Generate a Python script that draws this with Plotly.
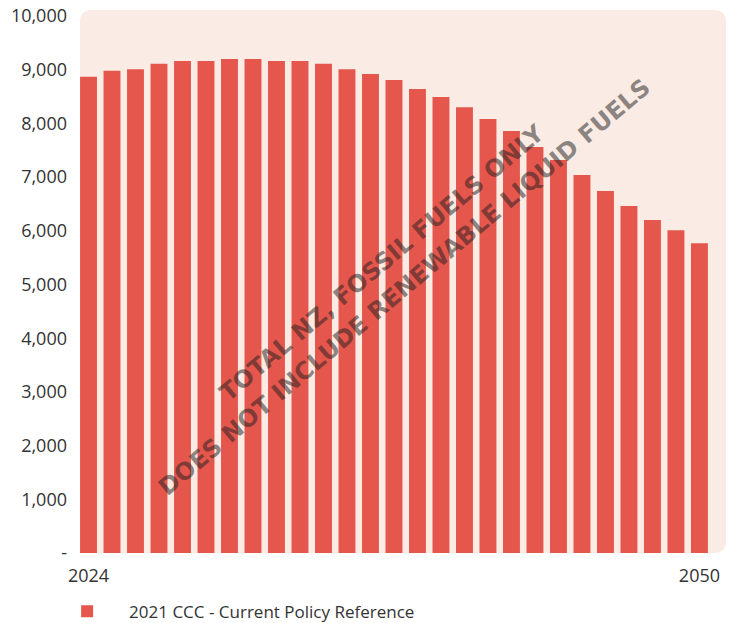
import plotly.graph_objects as go

years = list(range(2024, 2051))
values = [8870, 8980, 9010, 9110, 9160, 9160, 9200, 9200, 9160, 9160, 9110, 9010,
          8920, 8810, 8640, 8490, 8300, 8080, 7860, 7560, 7320, 7040, 6740, 6460,
          6200, 6010, 5770]
series_name = "2021 CCC - Current Policy Reference"
y_ticks = [0, 1000, 2000, 3000, 4000, 5000, 6000, 7000, 8000, 9000, 10000]
y_ticktext = ["-", "1,000", "2,000", "3,000", "4,000", "5,000", "6,000", "7,000",
              "8,000", "9,000", "10,000"]
x_ticks = [2024, 2050]
watermark = ["TOTAL NZ, FOSSIL FUELS ONLY", "DOES NOT INCLUDE RENEWABLE LIQUID FUELS"]

BAR = "#E5574C"
BG = "#FAEBE4"
TXT = "#333333"

fig = go.Figure()
fig.add_trace(go.Bar(x=years, y=values, name=series_name, marker_color=BAR,
                     marker_line_width=0, showlegend=True))

# rounded plot background
W, H = 646.0, 543.0
r = 12.0
rx, ry = r / W, r / H
path = (f"M {rx},0 L {1-rx},0 Q 1,0 1,{ry} L 1,{1-ry} Q 1,1 {1-rx},1 "
        f"L {rx},1 Q 0,1 0,{1-ry} L 0,{ry} Q 0,0 {rx},0 Z")
fig.add_shape(type="path", path=path, xref="paper", yref="paper",
              fillcolor=BG, line_width=0, layer="below")

wm_font = dict(family="DejaVu Sans", size=24, color="rgba(30,30,30,0.5)", weight="bold")
fig.add_annotation(text=watermark[0], x=0.4675, y=0.534, xref="paper", yref="paper",
                   showarrow=False, textangle=-40, font=wm_font)
fig.add_annotation(text=watermark[1], x=0.503, y=0.490, xref="paper", yref="paper",
                   showarrow=False, textangle=-40, font=wm_font)

fig.update_layout(
    width=740, height=623,
    margin=dict(l=80, r=14, t=10, b=70, autoexpand=False),
    paper_bgcolor="white", plot_bgcolor="rgba(0,0,0,0)",
    bargap=0.28,
    font=dict(family="Open Sans", color=TXT, size=18),
    xaxis=dict(range=[2023.638, 2051.13], tickvals=x_ticks, showgrid=False,
               zeroline=False, showline=False, ticks="", ticklabelstandoff=10,
               automargin=False, tickfont=dict(size=18, color=TXT)),
    yaxis=dict(range=[0, 10112], tickvals=y_ticks, ticktext=y_ticktext,
               showgrid=False, zeroline=False, showline=False, ticks="",
               ticklabelstandoff=12, automargin=False,
               tickfont=dict(size=18, color=TXT)),
    legend=dict(orientation="h", x=-0.054, xanchor="left", y=-0.108, yanchor="middle",
                itemwidth=74, font=dict(size=17, color=TXT),
                bgcolor="rgba(0,0,0,0)", borderwidth=0),
)

fig.write_html("out.html")
